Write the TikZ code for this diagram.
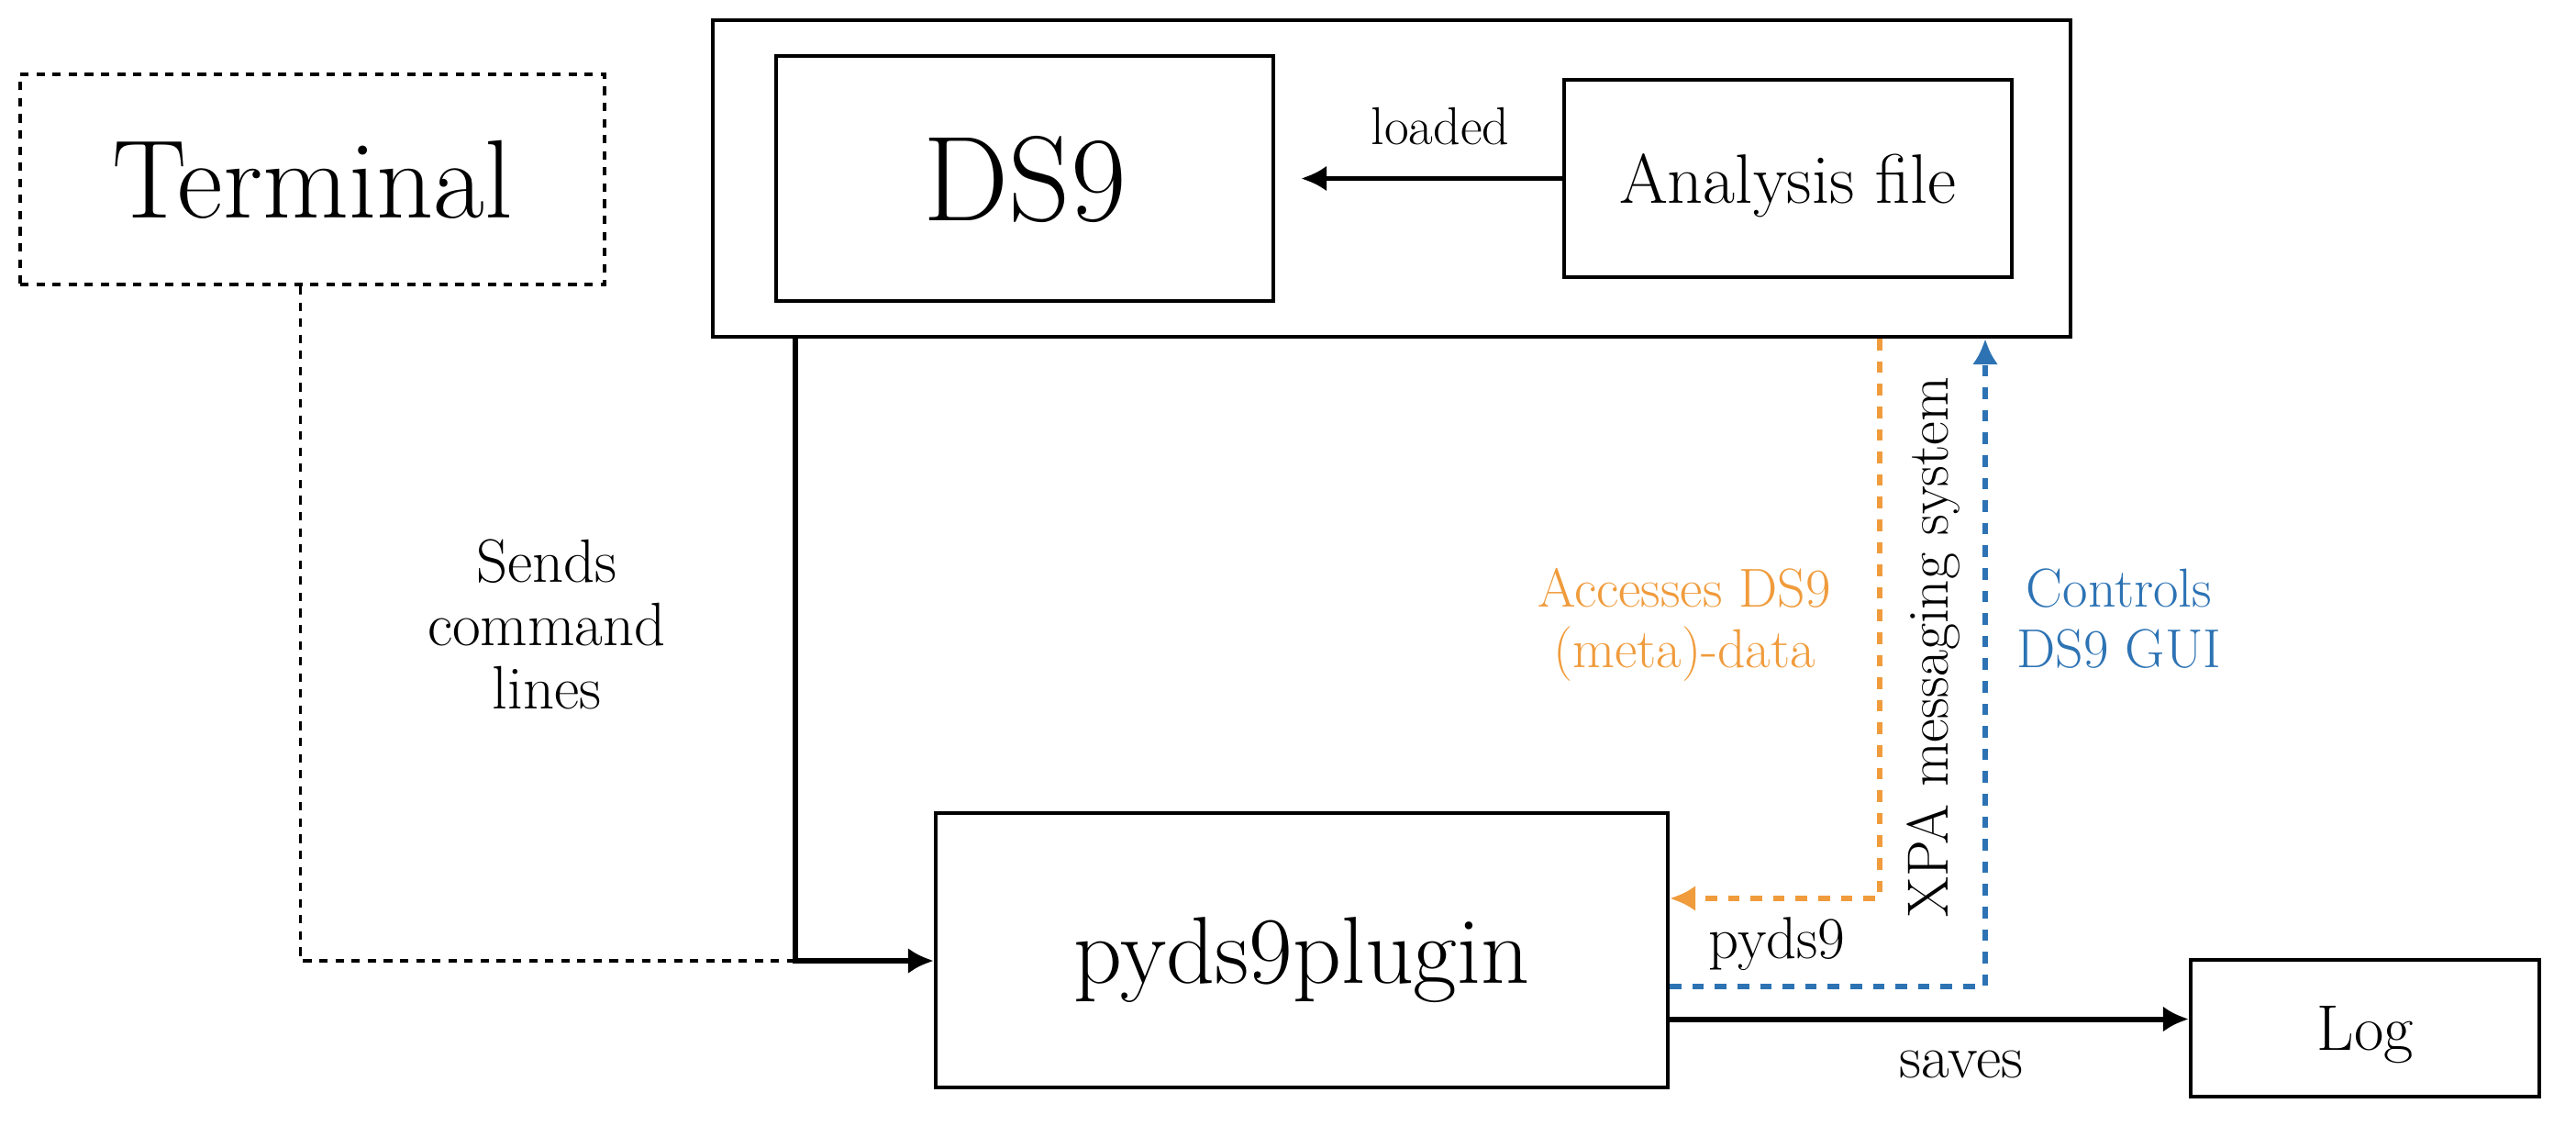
\documentclass[tikz,border=0pt]{standalone}
\usetikzlibrary{arrows.meta,positioning,calc}

\definecolor{xpaorange}{RGB}{240,155,60}
\definecolor{xpablue}{RGB}{45,115,180}
\newcommand{\fsz}[2]{\fontsize{#1}{#2}\selectfont}

\begin{document}
\begin{tikzpicture}
    [>={Latex[length=8pt,width=8pt]},
     box/.style={draw,line width=1.2pt,inner sep=0pt,text depth=0pt},
     txt/.style={align=center,inner sep=0pt,text depth=0pt},
     flow/.style={line width=1.7pt},
     cmd/.style={line width=1.1pt,dash pattern=on 2.6pt off 2.4pt},
     xpa/.style={line width=1.9pt,dash pattern=on 3.6pt off 3.4pt}]

    \useasboundingbox (0,0) rectangle (28.08,-12.38);

    % boxes
    \node[box,cmd,minimum width=6.37cm,minimum height=2.29cm,font=\fsz{34.6pt}{36pt}] (term) at (3.405,-1.955) {Terminal};
    \node[box,minimum width=14.80cm,minimum height=3.45cm] (ds9box) at (15.17,-1.945) {};
    \node[box,minimum width=5.42cm,minimum height=2.67cm,font=\fsz{37.5pt}{40pt}] (ds9) at (11.17,-1.945) {DS9};
    \node[box,minimum width=4.88cm,minimum height=2.15cm,font=\fsz{21.7pt}{24pt}] (anal) at (19.49,-1.945) {Analysis file};
    \node[box,minimum width=7.98cm,minimum height=2.99cm,font=\fsz{29.5pt}{32pt}] (plugin) at (14.19,-10.355) {pyds9plugin};
    \node[box,minimum width=3.80cm,minimum height=1.49cm,font=\fsz{20pt}{22pt}] (log) at (25.78,-11.205) {Log};

    % helper points
    \coordinate (join) at (8.67,-10.47);
    \coordinate (xpaO) at (20.49,-9.79);
    \coordinate (xpaB) at (21.64,-10.75);

    % connectors
    \draw[flow,->,shorten >=2.8mm] (anal) -- (ds9);
    \draw[cmd] ([xshift=-1.3mm]term.south) |- (join);
    \draw[flow,->] (ds9box.south -| join) -- (join) -- (plugin.west |- join);
    \draw[xpa,xpaorange,->] (ds9box.south -| xpaO) -- (xpaO) -- (plugin.east |- xpaO);
    \draw[xpa,xpablue,->] (plugin.east |- xpaB) -- (xpaB) -- (ds9box.south -| xpaB);
    \draw[flow,->] ([yshift=-7.5mm]plugin.east) -- ([yshift=-7.5mm]plugin.east -| log.west);

    % labels
    \node[txt,font=\fsz{16.5pt}{18pt}] (loadlbl) at (15.70,-1.37) {loaded};
    \node[txt,font=\fsz{19pt}{19.6pt}] (sendlbl) at (5.96,-6.80) {Sends\\command\\lines};
    \node[txt,text=xpaorange,font=\fsz{17pt}{18.8pt}] (acclbl) at (18.36,-6.73) {Accesses DS9\\(meta)-data};
    \node[txt,text=xpablue,font=\fsz{17pt}{18.8pt}] (ctrllbl) at (23.10,-6.74) {Controls\\DS9 GUI};
    \node[txt,rotate=90,font=\fsz{18pt}{20pt}] (xpalbl) at (21.01,-7.05) {XPA messaging system};
    \node[txt,font=\fsz{18.4pt}{20pt}] (pylbl) at (19.37,-10.22) {pyds9};
    \node[txt,font=\fsz{19pt}{20pt}] (savelbl) at (21.38,-11.60) {saves};

\end{tikzpicture}
\end{document}
